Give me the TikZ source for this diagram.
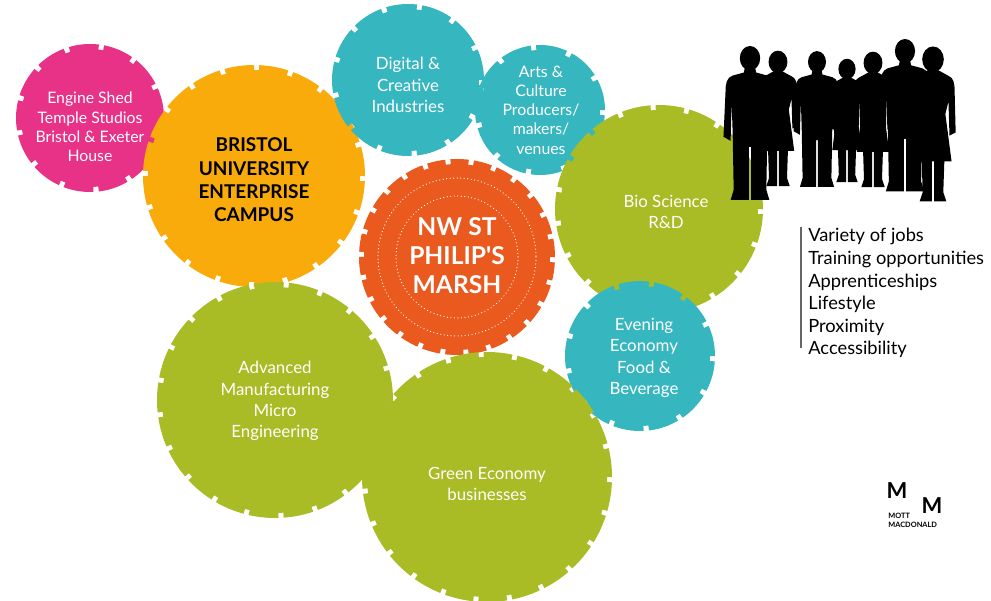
\documentclass[tikz,border=0pt]{standalone}
\usepackage{fontspec}
\setmainfont{Lato}[Ligatures=TeXOff]

\definecolor{pinkish}{HTML}{E83287}
\definecolor{amber}{HTML}{F8AB0A}
\definecolor{teal}{HTML}{36B7BF}
\definecolor{rust}{HTML}{EA5A1F}
\definecolor{lime}{HTML}{A9BC25}

% one cog: name, x, y, outer radius (px), colour, number of teeth
\newcommand{\cog}[6]{%
  \pgfmathsetmacro\cogon{2*pi*(#4-5)*0.569055/#6-2.8}%
  \node[cog, fill=#5, draw=#5, minimum size={2*(#4-5)*0.02cm},
    dash pattern=on \cogon pt off 2.8pt] (#1) at (#2,#3) {};}

\tikzset{
  cog/.style={circle, inner sep=0pt, line width=0.2cm},
  cogtext/.style={align=center, text=white, inner sep=0pt,
    font=\fontsize{9.6}{12.1}\selectfont},
  smalltext/.style={cogtext, font=\fontsize{9}{11}\selectfont},
  perk/.style={anchor=base west, inner sep=0pt,
    font=\fontsize{10.4}{12}\selectfont},
  logo/.style={inner sep=0pt, font=\bfseries\fontsize{12.5}{12.5}\selectfont},
  man/.pic={
    \fill (0,11) ellipse [x radius=10, y radius=12];
    \fill (-5,20) -- (-6,25) -- (-17,28) .. controls (-23,30) and (-24,36) .. (-24,44)
      -- (-26,88) -- (-19,92) -- (-18,54) -- (-17,84) -- (-16,140) -- (-19,150)
      -- (-1,150) -- (-1,98) -- (1,98) -- (1,150) -- (19,150) -- (16,140)
      -- (17,84) -- (18,54) -- (19,92) -- (26,88) -- (24,44)
      .. controls (24,36) and (23,30) .. (17,28) -- (6,25) -- (5,20) -- cycle;
  },
  woman/.pic={
    \fill (0,11) ellipse [x radius=10.5, y radius=12.5];
    \fill (-4,21) -- (-15,27) .. controls (-20,29) and (-21,34) .. (-21,42)
      -- (-22,82) -- (-16,85) -- (-15,52) -- (-12,64) -- (-18,110) -- (-11,110)
      -- (-10,140) -- (-13,149) -- (-1,149) -- (-1,110) -- (1,110) -- (1,149)
      -- (13,149) -- (10,140) -- (11,110) -- (18,110) -- (12,64) -- (15,52)
      -- (16,85) -- (22,82) -- (21,42) .. controls (21,34) and (20,29) .. (15,27)
      -- (4,21) -- cycle;
  }
}

\begin{document}
\begin{tikzpicture}[x=0.02cm, y=-0.02cm]
  \useasboundingbox[fill=white] (0,0) rectangle (991,601);

  % cogs, back to front
  \cog{engine-cog}{90}{118}{74}{pinkish}{13}
  \cog{bristol-cog}{254}{176}{111}{amber}{20}
  \cog{digital-cog}{408}{80}{76}{teal}{13}
  \cog{arts-cog}{540}{110}{65}{teal}{11}
  \cog{marsh-cog}{457}{257}{98}{rust}{26}
  \cog{bio-cog}{659}{209}{104}{lime}{19}
  \cog{evening-cog}{640}{356}{75}{teal}{13}
  \cog{advanced-cog}{275}{400}{118}{lime}{21}
  \cog{green-cog}{487}{477}{125}{lime}{23}

  % dotted rings in the middle cog
  \draw[white, line width=0.7pt, line cap=round, dash pattern=on 0pt off 2pt]
    (marsh-cog.center) circle [radius=79];
  \draw[white, line width=0.7pt, line cap=round, dash pattern=on 0pt off 2pt]
    (marsh-cog.center) circle [radius=61];

  % labels
  \node[smalltext] (engine) at (90,127) {Engine Shed\\Temple Studios\\Bristol \& Exeter\\House};
  \node[cogtext, text=black, font=\bfseries\fontsize{10.8}{13.3}\selectfont] (bristol) at (254,180)
    {BRISTOL\\UNIVERSITY\\ENTERPRISE\\CAMPUS};
  \node[cogtext] (digital) at (408,85) {Digital \&\\Creative\\Industries};
  \node[smalltext] (arts) at (541,110) {Arts \&\\Culture\\Producers/\\makers/\\venues};
  \node[cogtext, font=\bfseries\fontsize{14}{16.5}\selectfont] (marsh) at (457,256)
    {NW ST\\PHILIP'S\\MARSH};
  \node[cogtext] (bio) at (666,212) {Bio Science\\R\&D};
  \node[cogtext] (evening) at (644,358) {Evening\\Economy\\Food \&\\Beverage};
  \node[cogtext] (advanced) at (275,401) {Advanced\\Manufacturing\\Micro\\Engineering};
  \node[cogtext] (green) at (487,484) {Green Economy\\businesses};

  % people
  \foreach \hx/\hy/\s in {750/47/1.02, 817/52/0.9, 905/40/1.01}
    \pic[scale=\s] at (\hx,\hy) {man};
  \foreach \hx/\hy/\s in {778/52/0.9, 847/60/0.82, 873/53/0.9, 933/48/1.03}
    \pic[scale=\s] at (\hx,\hy) {woman};

  % benefits list
  \draw[gray!80!black, line width=0.6pt] (801,227) -- (801,348);
  \foreach \t [count=\k] in {Variety of jobs, Training opportunities, Apprenticeships,
    Lifestyle, Proximity, Accessibility}
    \node[perk] (perk\k) at (808,219.4+22.6*\k) {\t};

  % logo
  \node[logo] (mleft) at (897,491) {M};
  \node[logo] (mright) at (932,506) {M};
  \node[anchor=north west, inner sep=0pt, align=left,
    font=\bfseries\fontsize{4.2}{5}\selectfont] (mottname) at (888,513) {MOTT\\MACDONALD};

\end{tikzpicture}
\end{document}
